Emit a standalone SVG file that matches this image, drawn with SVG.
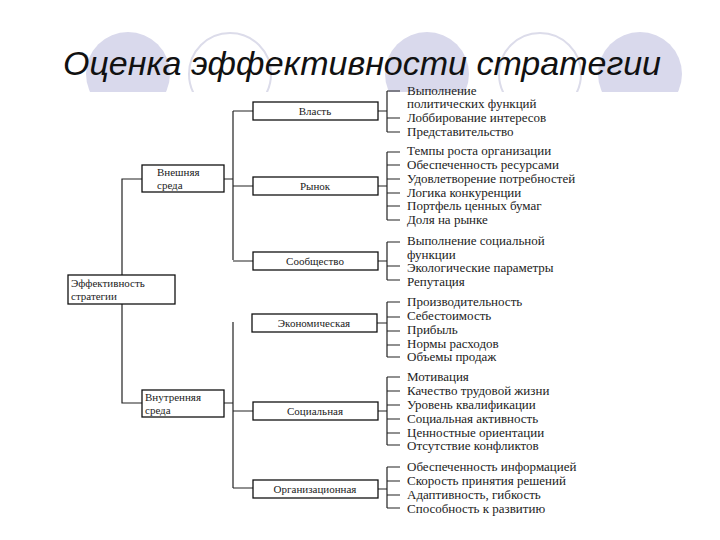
<svg xmlns="http://www.w3.org/2000/svg" width="720" height="540" viewBox="0 0 720 540">
<style>
.t{font-family:'Liberation Serif','DejaVu Serif',serif;font-size:13px;fill:#222}
.b{font-family:'Liberation Serif','DejaVu Serif',serif;font-size:11px;fill:#222}
.c{text-anchor:middle}
rect.n{fill:#fff;stroke:#111;stroke-width:1.3}
#con path{fill:none;stroke:#222;stroke-width:1.2}
</style>
<defs><clipPath id="cl"><rect x="0" y="0" width="720" height="92"/></clipPath></defs>
<rect width="720" height="540" fill="#fff"/>
<g clip-path="url(#cl)">
<circle cx="128" cy="74" r="42" fill="#d9d9ec"/>
<circle cx="230" cy="74" r="41" fill="none" stroke="#dcdcea" stroke-width="2"/>
<circle cx="427" cy="74" r="42" fill="#d9d9ec"/>
<circle cx="540" cy="74" r="41" fill="none" stroke="#dcdcea" stroke-width="2"/>
<circle cx="640" cy="74" r="42" fill="#d9d9ec"/>
</g>
<text x="362" y="75" text-anchor="middle" font-family="Liberation Sans,Arial,sans-serif" font-style="italic" font-size="34" fill="#111">Оценка эффективности стратегии</text>
<g id="con">
<path d="M122 275V179H142M122 304V403H142"/>
<path d="M224 179H233M233 111V260M233 111H253M233 186H253M233 261H253"/>
<path d="M224 403H233M233 322V488M233 411H253M233 488H253"/>
<path d="M378 111H387M387 91V132M387 91H400M387 118H400M387 132H400"/>
<path d="M378 186H387M387 152V220M387 152H400M387 165H400M387 179H400M387 193H400M387 206H400M387 220H400"/>
<path d="M378 261H387M387 242V280M387 242H400M387 266H400M387 280H400"/>
<path d="M377 323H387M387 302V357M387 302H400M387 317H400M387 331H400M387 345H400M387 357H400"/>
<path d="M378 411H387M387 377V445M387 377H400M387 391H400M387 405H400M387 419H400M387 433H400M387 445H400"/>
<path d="M378 489H387M387 467V508M387 467H400M387 481H400M387 495H400M387 508H400"/>
</g>
<g id="root"><rect class="n" x="68" y="275" width="107" height="29"/><text class="b" x="71" y="287">Эффективность</text><text class="b" x="71" y="300">стратегии</text></g>
<g id="ext"><rect class="n" x="142" y="165" width="82" height="27"/><text class="b" x="157" y="176">Внешняя</text><text class="b" x="157" y="189">среда</text></g>
<g id="int"><rect class="n" x="142" y="390" width="82" height="27"/><text class="b" x="145" y="401">Внутренняя</text><text class="b" x="145" y="414">среда</text></g>
<g id="vlast"><rect class="n" x="253" y="102" width="125" height="18"/><text class="b c" x="315" y="115">Власть</text></g>
<g id="rynok"><rect class="n" x="253" y="177" width="125" height="18"/><text class="b c" x="315" y="190">Рынок</text></g>
<g id="soob"><rect class="n" x="253" y="252" width="125" height="18"/><text class="b c" x="315" y="265">Сообщество</text></g>
<g id="econ"><rect class="n" x="252" y="314" width="125" height="18"/><text class="b c" x="314" y="327">Экономическая</text></g>
<g id="soc"><rect class="n" x="253" y="402" width="125" height="18"/><text class="b c" x="315" y="415">Социальная</text></g>
<g id="org"><rect class="n" x="253" y="480" width="125" height="18"/><text class="b c" x="315" y="493">Организационная</text></g>
<g id="l-vlast" class="t"><text x="407" y="95">Выполнение</text><text x="407" y="108">политических функций</text><text x="407" y="122">Лоббирование интересов</text><text x="407" y="136">Представительство</text></g>
<g id="l-rynok" class="t"><text x="407" y="155">Темпы роста организации</text><text x="407" y="169">Обеспеченность ресурсами</text><text x="407" y="183">Удовлетворение потребностей</text><text x="407" y="197">Логика конкуренции</text><text x="407" y="210">Портфель ценных бумаг</text><text x="407" y="224">Доля на рынке</text></g>
<g id="l-soob" class="t"><text x="407" y="245">Выполнение социальной</text><text x="407" y="259">функции</text><text x="407" y="272">Экологические параметры</text><text x="407" y="286">Репутация</text></g>
<g id="l-econ" class="t"><text x="407" y="306">Производительность</text><text x="407" y="320">Себестоимость</text><text x="407" y="334">Прибыль</text><text x="407" y="348">Нормы расходов</text><text x="407" y="361">Объемы продаж</text></g>
<g id="l-soc" class="t"><text x="407" y="381">Мотивация</text><text x="407" y="395">Качество трудовой жизни</text><text x="407" y="409">Уровень квалификации</text><text x="407" y="423">Социальная активность</text><text x="407" y="437">Ценностные ориентации</text><text x="407" y="450">Отсутствие конфликтов</text></g>
<g id="l-org" class="t"><text x="407" y="471">Обеспеченность информацией</text><text x="407" y="485">Скорость принятия решений</text><text x="407" y="499">Адаптивность, гибкость</text><text x="407" y="513">Способность к развитию</text></g>
</svg>
